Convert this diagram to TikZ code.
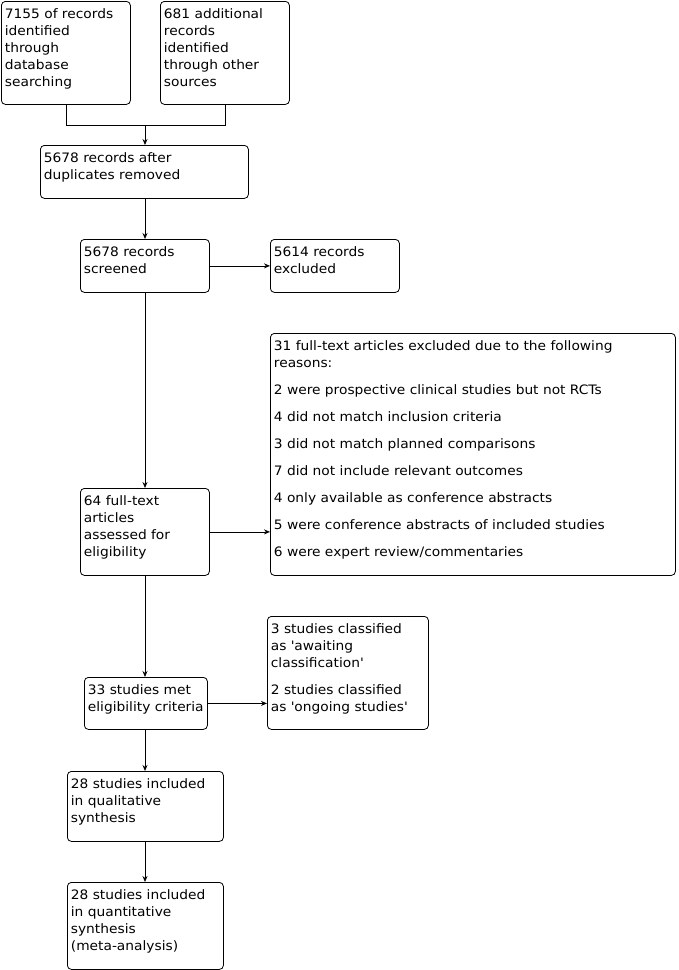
\documentclass[tikz,border=0pt]{standalone}
\usepackage{fontspec}
\setmainfont[FakeStretch=1.06]{DejaVu Sans}
\usetikzlibrary{arrows.meta}
\tikzset{
  fbox/.style={draw=black, line width=0.8pt, rounded corners=4pt, anchor=north west,
    inner xsep=3.5pt, inner ysep=5pt, font=\fontsize{13}{17}\selectfont, align=left},
  arr/.style={line width=0.8pt, -{Stealth[length=6pt,width=5pt]}},
  ln/.style={line width=0.8pt}
}
\newcommand{\fbx}[6]{\node[fbox] (#1) at (#2,#3) {\parbox[t][\dimexpr#5pt-10pt\relax][t]{\dimexpr#4pt-7pt\relax}{\begin{tabular}[t]{@{}l@{}}#6\end{tabular}}};}
\newcommand{\q}{\textquotesingle}
\begin{document}
\begin{tikzpicture}[x=1pt,y=-1pt]
\useasboundingbox (0,0) rectangle (678,970);
\fbx{A}{1}{1}{129}{103}{7155 of records\\identified\\through\\database\\searching}
\fbx{B}{160}{1}{129}{103}{681 additional\\records\\identified\\through other\\sources}
\fbx{C}{40}{145}{208}{53}{5678 records after\\duplicates removed}
\fbx{D}{80}{239}{129}{53}{5678 records\\screened}
\fbx{E}{270}{239}{129}{53}{5614 records\\excluded}
\fbx{G}{270}{333}{405}{242}{31 full-text articles excluded due to the following\\reasons:\\[10pt]
2 were prospective clinical studies but not RCTs\\[10pt]
4 did not match inclusion criteria\\[10pt]
3 did not match planned comparisons\\[10pt]
7 did not include relevant outcomes\\[10pt]
4 only available as conference abstracts\\[10pt]
5 were conference abstracts of included studies\\[10pt]
6 were expert review/commentaries}
\fbx{F}{80}{488}{129}{87}{64 full-text\\articles\\assessed for\\eligibility}
\fbx{I}{267}{616}{161}{113}{3 studies classified\\as \q awaiting\\classification\q\\[10pt]
2 studies classified\\as \q ongoing studies\q}
\fbx{H}{84}{677}{123}{52}{33 studies met\\eligibility criteria}
\fbx{J}{67}{771}{156}{70}{28 studies included\\in qualitative\\synthesis}
\fbx{K}{67}{882}{156}{87}{28 studies included\\in quantitative\\synthesis\\(meta-analysis)}
\coordinate (j) at (145,125);
\draw[ln] (A.south) |- (j);
\draw[ln] (B.south) |- (j);
\draw[arr] (j) -- (C.north -| j);
\draw[arr] (C.south -| j) -- (D.north -| j);
\draw[arr] (D.east) -- (D.east -| E.west);
\draw[arr] (D.south -| j) -- (F.north -| j);
\draw[arr] (F.east) -- (F.east -| G.west);
\draw[arr] (F.south -| j) -- (H.north -| j);
\draw[arr] (H.east) -- (H.east -| I.west);
\draw[arr] (H.south -| j) -- (J.north -| j);
\draw[arr] (J.south -| j) -- (K.north -| j);
\end{tikzpicture}
\end{document}
